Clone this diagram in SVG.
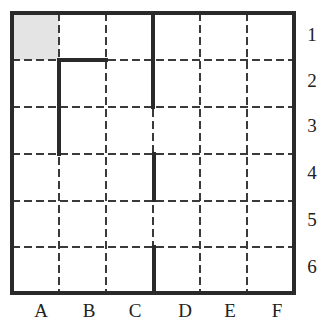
<svg xmlns="http://www.w3.org/2000/svg" width="321" height="320" viewBox="0 0 321 320">
<style>
.dash{stroke:#3a3a3a;stroke-width:2;stroke-dasharray:8 4;fill:none}
.wall{stroke:#2a2a2a;stroke-width:4;fill:none;stroke-linecap:square}
.lbl{font-family:"Liberation Serif","DejaVu Serif",serif;font-size:19px;fill:#222;text-anchor:middle}
</style>
<rect x="0" y="0" width="321" height="320" fill="#fff"/>
<rect id="shade" x="13" y="14" width="46" height="46" fill="#e4e4e4"/>
<g id="grid">
<path class="dash" d="M59 13V293M106 13V293M153 13V293M200 13V293M247 13V293"/>
<path class="dash" d="M12 60H294M12 107H294M12 154H294M12 201H294M12 247H294"/>
</g>
<g id="walls">
<rect class="wall" x="12" y="13" width="282" height="280"/>
<path class="wall" d="M59 154V60H106"/>
<path class="wall" d="M153 13V107"/>
<path class="wall" d="M154 154V200"/>
<path class="wall" d="M154 247V293"/>
</g>
<g id="labels">
<text class="lbl" x="312" y="41">1</text>
<text class="lbl" x="312" y="87">2</text>
<text class="lbl" x="312" y="132">3</text>
<text class="lbl" x="312" y="179">4</text>
<text class="lbl" x="312" y="226">5</text>
<text class="lbl" x="312" y="273">6</text>
<text class="lbl" x="41" y="317">A</text>
<text class="lbl" x="89" y="317">B</text>
<text class="lbl" x="135" y="317">C</text>
<text class="lbl" x="185" y="317">D</text>
<text class="lbl" x="230" y="317">E</text>
<text class="lbl" x="277" y="317">F</text>
</g>
</svg>
